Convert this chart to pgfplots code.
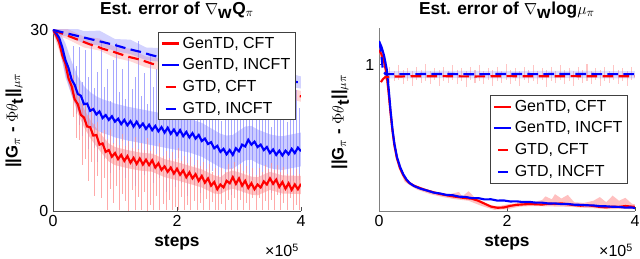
\documentclass[border=0pt]{standalone}
\usepackage{fontspec}
\setmainfont{Liberation Sans}
\usepackage{pgfplots}
\pgfplotsset{compat=1.18}
\definecolor{mred}{RGB}{255,0,0}
\definecolor{mblue}{RGB}{0,0,255}
\definecolor{lred}{RGB}{255,140,140}
\definecolor{lblue}{RGB}{130,130,255}
\pgfplotsset{
  mystyle/.style={
    scale only axis, at={(0,0)}, anchor=south west,
    xmin=0, xmax=4, xtick={0,2,4},
    axis lines*=left,
    axis line style={black!70, line width=0.6pt},
    tick style={black!70, line width=0.5pt},
    major tick length=3pt, tick align=inside,
    /pgf/number format/assume math mode=true,
    tick label style={font=\fontsize{12}{14}\selectfont},
    every axis x label/.style={at={(axis description cs:0.5,0)}, anchor=center, yshift=-24pt, font=\fontsize{13}{15}\selectfont\bfseries},
    every axis y label/.style={at={(axis description cs:0,0.5)}, xshift=-29pt, rotate=90, anchor=center, font=\fontsize{12.5}{14}\selectfont},
    every axis title/.style={at={(axis description cs:0.5,1)}, anchor=center, yshift=15pt, font=\fontsize{13}{15}\selectfont\bfseries},
    legend style={font=\fontsize{12}{14}\selectfont, draw=black!75, line width=0.6pt, fill=white, inner xsep=2pt, inner ysep=1.5pt, row sep=2.4pt, cells={anchor=west}},
    legend image code/.code={\draw[#1] (0cm,0cm) -- (0.45cm,0cm);},
    clip mode=individual,
  },
  dashleg/.style={legend image code/.code={\draw[##1,solid] (0.1cm,0cm) -- (0.36cm,0cm);}},
  spikes/.style={forget plot, draw=none, mark=none, error bars/.cd, y dir=both, y explicit, error mark=none, error bar style={line width=0.8pt, solid, #1}},
}
\newcommand{\ylab}{\textbf{||G}$_\pi$ \textbf{-} $\Phi\theta_{\textbf{t}}$\textbf{||}$_{\mu\pi}$}
\begin{document}
\begin{tikzpicture}
\path[use as bounding box] (-39.75pt,-36pt) rectangle (440.25pt,158.25pt);
% ---------------- left ----------------
\begin{axis}[mystyle, width=186pt, height=135.75pt, ymin=0, ymax=30, ytick={0,30},
  title={Est. error of $\nabla_{\textbf{w}}$Q$_\pi$}, xlabel={steps}, ylabel={\ylab},
  legend style={at={(0.98,0.99)}, anchor=north east}]
% red band body
\addplot[draw=none, fill=lred, fill opacity=0.5, forget plot] coordinates {
(0,30.4)(0.1,29.0)(0.2,25.8)(0.3,22.2)(0.4,19.2)(0.5,16.9)(0.6,15.1)(0.7,13.7)(0.8,12.4)(0.9,11.2)(1.0,10.6)(1.2,10.1)(1.4,9.7)(1.6,9.5)(1.8,8.6)(2.0,8.1)(2.2,7.5)(2.4,6.9)(2.6,5.9)(2.7,5.6)(2.8,6.4)(2.9,6.7)(3.0,6.4)(3.2,5.7)(3.3,5.6)(3.5,6.5)(3.7,5.9)(4.0,5.8)
(4.0,2.8)(3.7,2.9)(3.5,3.5)(3.3,2.6)(3.2,2.7)(3.0,3.4)(2.9,3.7)(2.8,3.4)(2.7,2.8)(2.6,2.9)(2.4,3.9)(2.2,4.5)(2.0,5.1)(1.8,5.6)(1.6,6.5)(1.4,6.7)(1.2,7.1)(1.0,7.6)(0.9,8.2)(0.8,9.4)(0.7,10.7)(0.6,12.1)(0.5,13.9)(0.4,16.2)(0.3,19.2)(0.2,22.8)(0.1,26.6)(0,29.6)
};
% blue band body
\addplot[draw=none, fill=lblue, fill opacity=0.4, forget plot] coordinates {
(0,30.5)(0.1,29.9)(0.2,27.8)(0.3,24.8)(0.4,22.3)(0.5,20.7)(0.6,19.7)(0.7,19.0)(0.8,18.5)(0.9,18.2)(1.0,17.8)(1.2,17.3)(1.4,16.9)(1.6,16.5)(1.8,16.1)(2.0,15.7)(2.2,15.3)(2.4,14.6)(2.5,14.0)(2.6,13.4)(2.7,12.8)(2.8,12.5)(2.9,12.6)(3.0,13.3)(3.1,14.0)(3.2,14.1)(3.3,13.5)(3.4,13.1)(3.5,12.7)(3.6,12.5)(3.7,12.4)(3.8,12.6)(3.9,12.8)(4.0,13.0)
(4.0,7.4)(3.9,7.2)(3.8,7.0)(3.7,6.8)(3.6,6.9)(3.5,7.1)(3.4,7.5)(3.3,7.9)(3.2,8.5)(3.1,8.4)(3.0,7.7)(2.9,7.0)(2.8,6.9)(2.7,7.2)(2.6,7.8)(2.5,8.4)(2.4,9.0)(2.2,9.7)(2.0,10.1)(1.8,10.5)(1.6,10.9)(1.4,11.3)(1.2,11.7)(1.0,12.2)(0.9,12.6)(0.8,12.9)(0.7,13.4)(0.6,14.1)(0.5,15.1)(0.4,16.7)(0.3,19.2)(0.2,22.2)(0.1,27.5)(0,29.5)
};
% blue spikes
\addplot[spikes={draw=lblue, opacity=0.7}] coordinates {
(0.325,21.4)+=(0,6)-=(0,3) (0.375,20.1)+=(0,4)-=(0,4) (0.425,19.2)+=(0,8)-=(0,5) (0.475,18.4)+=(0,3)-=(0,6) (0.525,17.7)+=(0,9)-=(0,3) (0.575,17.2)+=(0,5)-=(0,7) (0.625,16.8)+=(0,11)-=(0,4) (0.675,16.4)+=(0,4)-=(0,6) (0.725,16.1)+=(0,7)-=(0,8) (0.775,15.9)+=(0,12)-=(0,3)
(0.825,15.6)+=(0,5)-=(0,7) (0.875,15.5)+=(0,8)-=(0,5) (0.925,15.3)+=(0,3)-=(0,9) (0.975,15.1)+=(0,10)-=(0,4) (1.025,14.9)+=(0,13)-=(0,6) (1.075,14.8)+=(0,5)-=(0,8) (1.125,14.6)+=(0,9)-=(0,3) (1.175,14.5)+=(0,4)-=(0,9) (1.225,14.4)+=(0,11)-=(0,5) (1.275,14.3)+=(0,6)-=(0,7)
(1.325,14.2)+=(0,8)-=(0,10) (1.375,14.1)+=(0,14)-=(0,4) (1.425,14.0)+=(0,5)-=(0,6) (1.475,13.9)+=(0,9)-=(0,8) (1.525,13.8)+=(0,4)-=(0,5) (1.575,13.7)+=(0,12)-=(0,7) (1.625,13.6)+=(0,7)-=(0,9) (1.675,13.5)+=(0,10)-=(0,4) (1.725,13.4)+=(0,5)-=(0,8) (1.775,13.3)+=(0,13)-=(0,6)
(1.825,13.2)+=(0,6)-=(0,10) (1.875,13.1)+=(0,9)-=(0,5) (1.925,13.0)+=(0,4)-=(0,7) (1.975,12.9)+=(0,11)-=(0,9) (2.025,12.8)+=(0,7)-=(0,4) (2.075,12.7)+=(0,12)-=(0,8) (2.125,12.6)+=(0,5)-=(0,6) (2.175,12.5)+=(0,9)-=(0,10) (2.225,12.4)+=(0,6)-=(0,5) (2.275,12.3)+=(0,10)-=(0,8)
(2.325,12.2)+=(0,4)-=(0,6) (2.375,11.9)+=(0,13)-=(0,9) (2.425,11.7)+=(0,6)-=(0,5) (2.475,11.4)+=(0,9)-=(0,8) (2.525,11.0)+=(0,5)-=(0,7) (2.575,10.7)+=(0,10)-=(0,4) (2.625,10.4)+=(0,7)-=(0,7) (2.675,10.1)+=(0,11)-=(0,6) (2.725,9.9)+=(0,5)-=(0,7) (2.775,9.7)+=(0,9)-=(0,5)
(2.825,9.7)+=(0,6)-=(0,6) (2.875,9.7)+=(0,12)-=(0,7) (2.925,9.9)+=(0,7)-=(0,5) (2.975,10.3)+=(0,10)-=(0,7) (3.025,10.7)+=(0,5)-=(0,6) (3.075,11.0)+=(0,9)-=(0,8) (3.125,11.3)+=(0,6)-=(0,5) (3.175,11.4)+=(0,11)-=(0,7) (3.225,11.1)+=(0,4)-=(0,6) (3.275,10.8)+=(0,8)-=(0,8)
(3.325,10.6)+=(0,5)-=(0,5) (3.375,10.4)+=(0,10)-=(0,7) (3.425,10.2)+=(0,6)-=(0,6) (3.475,10.0)+=(0,9)-=(0,5) (3.525,9.9)+=(0,4)-=(0,7) (3.575,9.7)+=(0,11)-=(0,6) (3.625,9.6)+=(0,6)-=(0,5) (3.675,9.6)+=(0,8)-=(0,7) (3.725,9.6)+=(0,13)-=(0,4) (3.775,9.7)+=(0,5)-=(0,6)
(3.825,9.8)+=(0,9)-=(0,7) (3.875,9.9)+=(0,6)-=(0,5) (3.925,10.0)+=(0,10)-=(0,6) (3.975,10.1)+=(0,7)-=(0,5)
};
% red spikes
\addplot[spikes={draw=lred, opacity=0.75}] coordinates {
(0.325,19.6)+=(0,3)-=(0,4) (0.375,18.1)+=(0,2)-=(0,6) (0.425,16.8)+=(0,4)-=(0,5) (0.475,15.7)+=(0,2)-=(0,8) (0.525,14.7)+=(0,3)-=(0,6) (0.575,13.9)+=(0,2)-=(0,9) (0.625,13.2)+=(0,4)-=(0,5) (0.675,12.5)+=(0,2)-=(0,10) (0.725,11.8)+=(0,3)-=(0,6) (0.775,11.1)+=(0,2)-=(0,9)
(0.825,10.5)+=(0,3)-=(0,5) (0.875,10.0)+=(0,2)-=(0,9.8) (0.925,9.6)+=(0,4)-=(0,6) (0.975,9.3)+=(0,2)-=(0,8) (1.025,9.1)+=(0,3)-=(0,5) (1.075,8.95)+=(0,2)-=(0,8.8) (1.125,8.8)+=(0,4)-=(0,6) (1.175,8.7)+=(0,2)-=(0,7) (1.225,8.55)+=(0,3)-=(0,8.5) (1.275,8.4)+=(0,2)-=(0,5)
(1.325,8.3)+=(0,4)-=(0,8.2) (1.375,8.25)+=(0,2)-=(0,6) (1.425,8.2)+=(0,3)-=(0,8.1) (1.475,8.1)+=(0,2)-=(0,5) (1.525,8.05)+=(0,4)-=(0,8) (1.575,8.0)+=(0,2)-=(0,7) (1.625,7.8)+=(0,3)-=(0,7.7) (1.675,7.5)+=(0,2)-=(0,5) (1.725,7.3)+=(0,4)-=(0,7.2) (1.775,7.1)+=(0,2)-=(0,6)
(1.825,6.9)+=(0,3)-=(0,6.8) (1.875,6.8)+=(0,2)-=(0,5) (1.925,6.7)+=(0,3)-=(0,6.6) (1.975,6.6)+=(0,2)-=(0,6) (2.025,6.5)+=(0,4)-=(0,6.4) (2.075,6.3)+=(0,2)-=(0,4) (2.125,6.1)+=(0,3)-=(0,6.0) (2.175,6.0)+=(0,2)-=(0,5) (2.225,5.9)+=(0,3)-=(0,5.8) (2.275,5.7)+=(0,2)-=(0,4)
(2.325,5.5)+=(0,3)-=(0,5.4) (2.375,5.4)+=(0,2)-=(0,4) (2.425,5.2)+=(0,3)-=(0,5.1) (2.475,5.0)+=(0,2)-=(0,3) (2.525,4.8)+=(0,3)-=(0,4.7) (2.575,4.5)+=(0,2)-=(0,3) (2.625,4.2)+=(0,3)-=(0,4.1) (2.675,4.0)+=(0,2)-=(0,3.9) (2.725,4.2)+=(0,3)-=(0,3) (2.775,4.5)+=(0,2)-=(0,4.4)
(2.825,4.8)+=(0,3)-=(0,3) (2.875,5.1)+=(0,2)-=(0,5.0) (2.925,5.1)+=(0,3)-=(0,3) (2.975,4.9)+=(0,2)-=(0,4.8) (3.025,4.8)+=(0,3)-=(0,3) (3.075,4.6)+=(0,2)-=(0,4.5) (3.125,4.4)+=(0,3)-=(0,3) (3.175,4.2)+=(0,2)-=(0,4.1) (3.225,4.1)+=(0,3)-=(0,2) (3.275,4.0)+=(0,2)-=(0,3.9)
(3.325,4.1)+=(0,3)-=(0,2) (3.375,4.4)+=(0,2)-=(0,4.3) (3.425,4.7)+=(0,3)-=(0,3) (3.475,5.0)+=(0,2)-=(0,4.9) (3.525,4.9)+=(0,3)-=(0,3) (3.575,4.8)+=(0,2)-=(0,4.7) (3.625,4.6)+=(0,3)-=(0,2) (3.675,4.4)+=(0,2)-=(0,4.3) (3.725,4.3)+=(0,3)-=(0,3) (3.775,4.2)+=(0,2)-=(0,4.1)
(3.825,4.1)+=(0,3)-=(0,2) (3.875,4.0)+=(0,2)-=(0,3.9) (3.925,4.0)+=(0,3)-=(0,3) (3.975,4.1)+=(0,2)-=(0,4.0)
};
% dashed bands
\addplot[draw=none, fill=lred, fill opacity=0.35, forget plot] coordinates {
(0,30.6)(0.25,30.1)(0.5,28.9)(0.75,28.6)(1.0,27.2)(1.25,26.9)(1.5,25.6)(1.75,25.3)(2.0,24.2)(2.25,23.9)(2.5,22.9)(2.75,22.6)(3.0,21.8)(3.25,21.5)(3.5,20.8)(3.75,20.5)(4.0,19.9)
(4.0,18.1)(3.75,18.8)(3.5,19.0)(3.25,19.7)(3.0,20.0)(2.75,20.8)(2.5,21.1)(2.25,22.0)(2.0,22.4)(1.75,23.3)(1.5,23.8)(1.25,24.8)(1.0,25.4)(0.75,26.6)(0.5,27.1)(0.25,28.4)(0,29.4)
};
\addplot[draw=none, fill=lblue, fill opacity=0.35, forget plot] coordinates {
(0,30.8)(0.25,30.7)(0.5,29.8)(0.75,29.9)(1.0,28.5)(1.25,28.4)(1.5,27.1)(1.75,27.0)(2.0,25.8)(2.25,25.8)(2.5,24.8)(2.75,24.8)(3.0,23.8)(3.25,23.8)(3.5,23.0)(3.75,23.0)(4.0,22.3)
(4.0,20.3)(3.75,20.7)(3.5,21.0)(3.25,21.5)(3.0,21.8)(2.75,22.5)(2.5,22.6)(2.25,23.5)(2.0,23.8)(1.75,24.7)(1.5,25.0)(1.25,26.0)(1.0,26.5)(0.75,27.4)(0.5,27.8)(0.25,28.9)(0,29.3)
};
% GenTD CFT
\addplot[mred, line width=1.6pt, mark=none] coordinates {
(0,30.0)(0.05,29.1)(0.10,27.9)(0.15,25.8)(0.20,24.4)(0.25,22.0)(0.30,20.7)(0.35,18.5)(0.40,17.7)(0.45,15.9)(0.50,15.5)(0.55,14.0)(0.60,13.9)(0.65,12.5)(0.70,12.6)(0.75,11.0)(0.80,11.2)(0.85,9.8)(0.90,10.1)(0.95,9.0)(1.00,9.6)(1.05,8.6)(1.10,9.3)(1.15,8.3)(1.20,9.1)(1.25,8.0)(1.30,8.8)(1.35,7.8)(1.40,8.7)(1.45,7.7)(1.50,8.5)(1.55,7.6)(1.60,8.4)(1.65,7.2)(1.70,7.9)(1.75,6.8)(1.80,7.4)(1.85,6.5)(1.90,7.2)(1.95,6.2)(2.00,7.0)(2.05,6.0)(2.10,6.7)(2.15,5.6)(2.20,6.4)(2.25,5.4)(2.30,6.1)(2.35,5.0)(2.40,5.8)(2.45,4.7)(2.50,5.4)(2.55,4.2)(2.60,4.8)(2.65,3.6)(2.70,4.4)(2.75,3.9)(2.80,5.0)(2.85,4.6)(2.90,5.6)(2.95,4.5)(3.00,5.4)(3.05,4.2)(3.10,5.0)(3.15,3.8)(3.20,4.6)(3.25,3.6)(3.30,4.4)(3.35,3.9)(3.40,4.9)(3.45,4.4)(3.50,5.4)(3.55,4.5)(3.60,5.2)(3.65,4.0)(3.70,4.8)(3.75,3.7)(3.80,4.6)(3.85,3.5)(3.90,4.4)(3.95,3.6)(4.00,4.5)
};
\addlegendentry{GenTD, CFT}
% GenTD INCFT
\addplot[mblue, line width=1.6pt, mark=none] coordinates {
(0,30.0)(0.05,29.5)(0.10,28.7)(0.15,27.1)(0.20,25.0)(0.25,23.7)(0.30,21.8)(0.35,20.9)(0.40,19.4)(0.45,19.1)(0.50,17.7)(0.55,17.8)(0.60,16.6)(0.65,16.9)(0.70,16.0)(0.75,16.5)(0.80,15.4)(0.85,15.9)(0.90,15.1)(0.95,15.7)(1.00,14.8)(1.05,15.3)(1.10,14.4)(1.15,15.1)(1.20,14.2)(1.25,14.9)(1.30,14.0)(1.35,14.8)(1.40,13.9)(1.45,14.5)(1.50,13.6)(1.55,14.3)(1.60,13.4)(1.65,14.1)(1.70,13.2)(1.75,13.9)(1.80,13.0)(1.85,13.8)(1.90,12.8)(1.95,13.5)(2.00,12.6)(2.05,13.4)(2.10,12.4)(2.15,13.1)(2.20,12.2)(2.25,12.9)(2.30,12.0)(2.35,12.6)(2.40,11.6)(2.45,12.0)(2.50,11.1)(2.55,11.4)(2.60,10.4)(2.65,10.8)(2.70,9.8)(2.75,10.3)(2.80,9.4)(2.85,10.1)(2.90,9.3)(2.95,10.4)(3.00,9.9)(3.05,11.0)(3.10,10.7)(3.15,11.8)(3.20,11.0)(3.25,11.5)(3.30,10.6)(3.35,11.0)(3.40,10.1)(3.45,10.6)(3.50,9.6)(3.55,10.2)(3.60,9.3)(3.65,10.0)(3.70,9.2)(3.75,10.0)(3.80,9.4)(3.85,10.3)(3.90,9.6)(3.95,10.5)(4.00,9.9)
};
\addlegendentry{GenTD, INCFT}
% GTD CFT
\addplot[mred, line width=1.6pt, mark=none, dash pattern=on 8pt off 4pt, dashleg] coordinates {
(0,30)(0.1,29.6)(0.2,29.2)(0.3,28.8)(0.4,28.4)(0.5,28.0)(0.6,27.6)(0.7,27.3)(0.8,26.9)(0.9,26.6)(1.0,26.3)(1.2,25.6)(1.4,25.1)(1.6,24.4)(1.8,23.9)(2.0,23.3)(2.2,22.8)(2.4,22.3)(2.6,21.8)(2.8,21.3)(3.0,20.9)(3.2,20.5)(3.4,20.1)(3.6,19.7)(3.8,19.4)(4.0,19.0)
};
\addlegendentry{GTD, CFT}
% GTD INCFT
\addplot[mblue, line width=1.6pt, mark=none, dash pattern=on 8pt off 4pt, dashleg] coordinates {
(0,30)(0.2,29.5)(0.4,29.0)(0.6,28.5)(0.8,28.0)(1.0,27.5)(1.2,26.9)(1.4,26.4)(1.6,25.8)(1.8,25.3)(2.0,24.8)(2.2,24.4)(2.4,24.0)(2.6,23.5)(2.8,23.1)(3.0,22.8)(3.2,22.4)(3.4,22.1)(3.6,21.8)(3.8,21.5)(4.0,21.3)
};
\addlegendentry{GTD, INCFT}
\node[anchor=east, font=\fontsize{12}{14}\selectfont] at (rel axis cs:1,0) [yshift=-29.5pt, xshift=2pt] {×10\textsuperscript{5}};
\end{axis}
% ---------------- right ----------------
\begin{axis}[mystyle, at={(244.5pt,0)}, width=192pt, height=137.25pt, ymin=0, ymax=1.25, ytick={1},
  axis line style={black!50, line width=0.6pt},
  title={Est. error of $\nabla_{\textbf{w}}$\textbf{log}$\mu_\pi$}, xlabel={steps}, ylabel={\ylab},
  every axis title/.append style={yshift=-1.5pt}, every axis y label/.append style={xshift=-2pt},
  legend style={at={(0.973,0.634)}, anchor=north east}]
% dashed region spikes
\addplot[spikes={draw=lred, opacity=0.5}] coordinates {
(0.10,0.925)+=(0,0.04)-=(0,0.03) (0.17,0.925)+=(0,0.06)-=(0,0.05) (0.24,0.925)+=(0,0.03)-=(0,0.04) (0.31,0.925)+=(0,0.07)-=(0,0.03) (0.38,0.925)+=(0,0.04)-=(0,0.06) (0.45,0.925)+=(0,0.05)-=(0,0.04) (0.52,0.925)+=(0,0.03)-=(0,0.07) (0.59,0.925)+=(0,0.06)-=(0,0.03) (0.66,0.925)+=(0,0.04)-=(0,0.05) (0.73,0.925)+=(0,0.08)-=(0,0.04)
(0.80,0.925)+=(0,0.03)-=(0,0.06) (0.87,0.925)+=(0,0.05)-=(0,0.03) (0.94,0.925)+=(0,0.04)-=(0,0.07) (1.01,0.925)+=(0,0.06)-=(0,0.04) (1.08,0.925)+=(0,0.03)-=(0,0.05) (1.15,0.925)+=(0,0.07)-=(0,0.03) (1.22,0.925)+=(0,0.04)-=(0,0.06) (1.29,0.925)+=(0,0.05)-=(0,0.04) (1.36,0.925)+=(0,0.03)-=(0,0.08) (1.43,0.925)+=(0,0.06)-=(0,0.03)
(1.50,0.925)+=(0,0.04)-=(0,0.05) (1.57,0.925)+=(0,0.07)-=(0,0.04) (1.64,0.925)+=(0,0.03)-=(0,0.06) (1.71,0.925)+=(0,0.05)-=(0,0.03) (1.78,0.925)+=(0,0.04)-=(0,0.07) (1.85,0.925)+=(0,0.06)-=(0,0.04) (1.92,0.925)+=(0,0.03)-=(0,0.05) (1.99,0.925)+=(0,0.08)-=(0,0.03) (2.06,0.925)+=(0,0.04)-=(0,0.06) (2.13,0.925)+=(0,0.05)-=(0,0.04)
(2.20,0.925)+=(0,0.03)-=(0,0.07) (2.27,0.925)+=(0,0.06)-=(0,0.03) (2.34,0.925)+=(0,0.04)-=(0,0.05) (2.41,0.925)+=(0,0.07)-=(0,0.04) (2.48,0.925)+=(0,0.03)-=(0,0.06) (2.55,0.925)+=(0,0.05)-=(0,0.03) (2.62,0.925)+=(0,0.04)-=(0,0.08) (2.69,0.925)+=(0,0.06)-=(0,0.04) (2.76,0.925)+=(0,0.03)-=(0,0.05) (2.83,0.925)+=(0,0.07)-=(0,0.03)
(2.90,0.925)+=(0,0.04)-=(0,0.06) (2.97,0.925)+=(0,0.05)-=(0,0.04) (3.04,0.925)+=(0,0.03)-=(0,0.07) (3.11,0.925)+=(0,0.06)-=(0,0.03) (3.18,0.925)+=(0,0.04)-=(0,0.05) (3.25,0.925)+=(0,0.08)-=(0,0.04) (3.32,0.925)+=(0,0.03)-=(0,0.06) (3.39,0.925)+=(0,0.05)-=(0,0.03) (3.46,0.925)+=(0,0.04)-=(0,0.07) (3.53,0.925)+=(0,0.06)-=(0,0.04)
(3.60,0.925)+=(0,0.03)-=(0,0.05) (3.67,0.925)+=(0,0.07)-=(0,0.03) (3.74,0.925)+=(0,0.04)-=(0,0.06) (3.81,0.925)+=(0,0.05)-=(0,0.04) (3.88,0.925)+=(0,0.03)-=(0,0.07) (3.95,0.925)+=(0,0.06)-=(0,0.03)
};
\addplot[draw=none, fill=lblue, fill opacity=0.25, forget plot] coordinates {
(0.08,0.955)(1.0,0.958)(2.0,0.955)(3.0,0.958)(4.0,0.955)
(4.0,0.905)(3.0,0.908)(2.0,0.905)(1.0,0.908)(0.08,0.905)
};
% red solid band
\addplot[draw=none, fill=lred, fill opacity=0.55, forget plot] coordinates {
(0,1.12)(0.1,1.0)(0.2,0.62)(0.3,0.35)(0.4,0.24)(0.5,0.19)(0.7,0.155)(0.9,0.13)(1.1,0.115)(1.25,0.13)(1.3,0.10)(1.4,0.135)(1.5,0.09)(1.6,0.07)(1.7,0.045)(1.8,0.035)(1.9,0.035)(2.0,0.045)(2.2,0.055)(2.4,0.06)(2.55,0.075)(2.6,0.10)(2.7,0.08)(2.75,0.115)(2.85,0.085)(2.95,0.11)(3.05,0.06)(3.2,0.055)(3.35,0.07)(3.45,0.095)(3.55,0.06)(3.65,0.105)(3.75,0.07)(3.85,0.09)(3.95,0.05)(4.0,0.045)
(4.0,0.012)(3.8,0.015)(3.6,0.012)(3.4,0.018)(3.2,0.022)(3.0,0.028)(2.8,0.03)(2.6,0.032)(2.4,0.034)(2.2,0.03)(2.0,0.012)(1.8,0.008)(1.6,0.035)(1.4,0.07)(1.2,0.08)(1.0,0.095)(0.8,0.115)(0.6,0.145)(0.5,0.17)(0.4,0.2)(0.3,0.30)(0.2,0.55)(0.1,0.95)(0,1.08)
};
% GenTD CFT
\addplot[mred, line width=1.6pt, mark=none] coordinates {
(0,1.10)(0.04,1.07)(0.08,1.02)(0.12,0.93)(0.15,0.81)(0.18,0.67)(0.21,0.55)(0.24,0.45)(0.28,0.36)(0.33,0.29)(0.38,0.245)(0.43,0.21)(0.48,0.19)(0.55,0.172)(0.65,0.155)(0.75,0.140)(0.85,0.128)(0.95,0.116)(1.05,0.108)(1.15,0.100)(1.25,0.094)(1.35,0.088)(1.45,0.084)(1.55,0.070)(1.65,0.050)(1.75,0.030)(1.85,0.022)(1.95,0.024)(2.05,0.035)(2.15,0.042)(2.25,0.045)(2.35,0.048)(2.45,0.046)(2.55,0.044)(2.65,0.050)(2.75,0.048)(2.85,0.052)(2.95,0.046)(3.05,0.040)(3.15,0.036)(3.25,0.040)(3.35,0.034)(3.45,0.028)(3.55,0.025)(3.65,0.030)(3.75,0.028)(3.85,0.034)(3.95,0.030)(4.00,0.028)
};
\addlegendentry{GenTD, CFT}
% GenTD INCFT
\addplot[mblue, line width=1.6pt, mark=none] coordinates {
(0,1.16)(0.04,1.12)(0.08,1.06)(0.12,0.97)(0.15,0.84)(0.18,0.69)(0.21,0.56)(0.24,0.46)(0.28,0.37)(0.33,0.30)(0.38,0.25)(0.43,0.215)(0.48,0.19)(0.55,0.17)(0.65,0.152)(0.75,0.140)(0.85,0.126)(0.95,0.120)(1.05,0.110)(1.15,0.108)(1.25,0.098)(1.35,0.096)(1.45,0.088)(1.55,0.088)(1.65,0.079)(1.75,0.080)(1.85,0.071)(1.95,0.072)(2.05,0.065)(2.15,0.066)(2.25,0.061)(2.35,0.062)(2.45,0.057)(2.55,0.057)(2.65,0.051)(2.75,0.052)(2.85,0.047)(2.95,0.048)(3.05,0.043)(3.15,0.042)(3.25,0.039)(3.35,0.038)(3.45,0.033)(3.55,0.032)(3.65,0.029)(3.75,0.028)(3.85,0.023)(3.95,0.024)(4.00,0.020)
};
\addlegendentry{GenTD, INCFT}
% GTD CFT
\addplot[mred, line width=1.6pt, mark=none, dash pattern=on 8pt off 4pt, dashleg] coordinates {
(0.03,0.88)(0.06,0.90)(0.1,0.915)(0.2,0.918)(0.5,0.92)(1.0,0.921)(1.5,0.919)(2.0,0.921)(2.5,0.92)(3.0,0.921)(3.5,0.92)(4.0,0.92)
};
\addlegendentry{GTD, CFT}
% GTD INCFT
\addplot[mblue, line width=1.6pt, mark=none, dash pattern=on 8pt off 4pt, dashleg] coordinates {
(0,1.16)(0.03,1.10)(0.06,0.96)(0.1,0.935)(0.5,0.935)(1.0,0.936)(1.5,0.934)(2.0,0.936)(2.5,0.935)(3.0,0.936)(3.5,0.935)(4.0,0.935)
};
\addlegendentry{GTD, INCFT}
\node[anchor=east, font=\fontsize{12}{14}\selectfont] at (rel axis cs:1,0) [yshift=-29.5pt, xshift=2pt] {×10\textsuperscript{5}};
\end{axis}
\end{tikzpicture}
\end{document}
